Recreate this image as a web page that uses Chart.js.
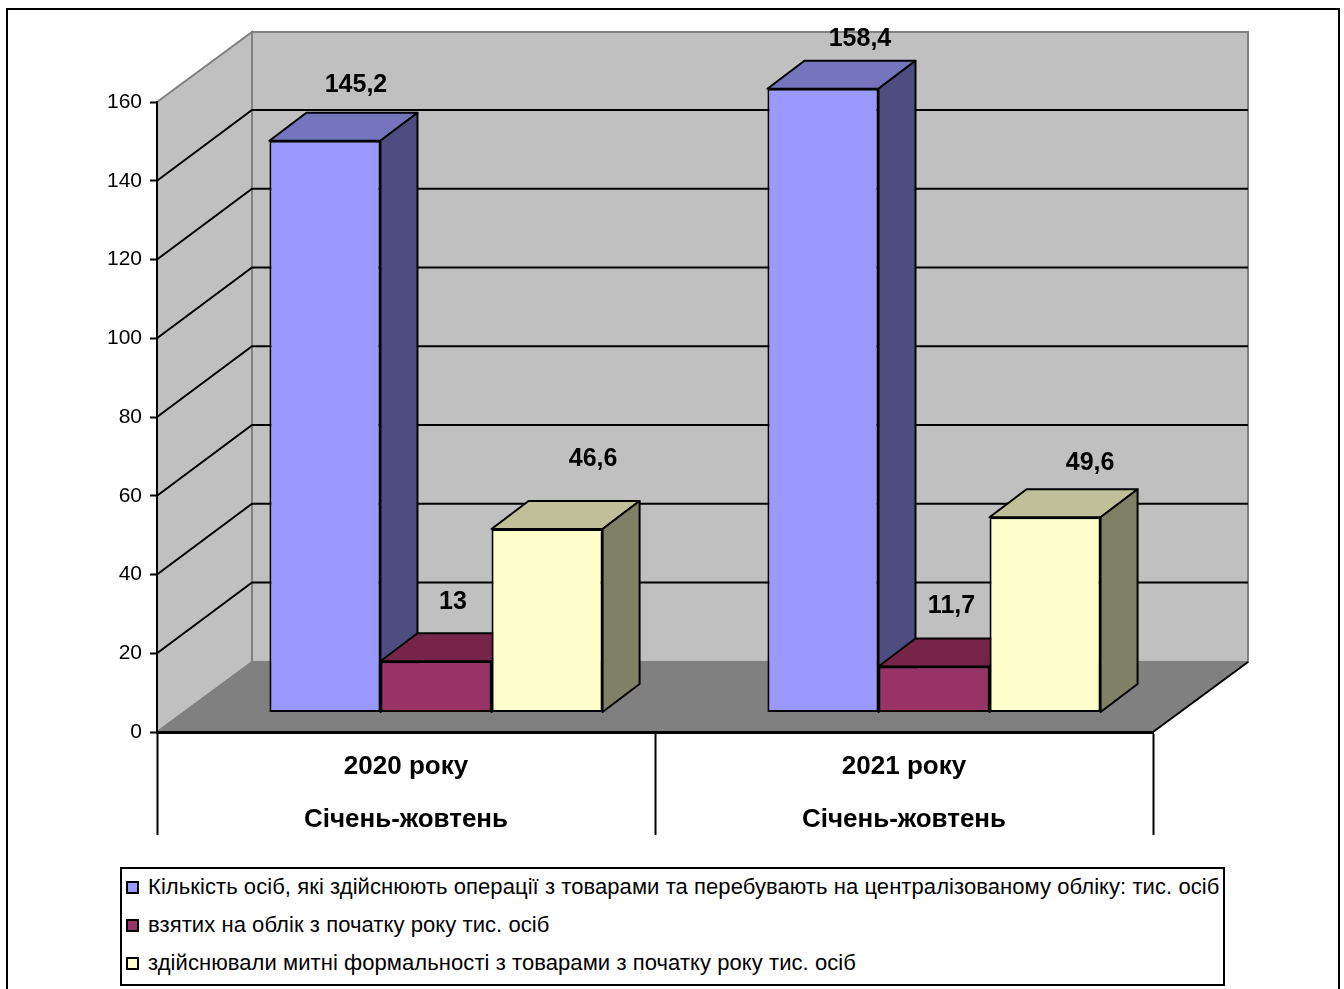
<!DOCTYPE html>
<html>
<head>
<meta charset="utf-8">
<script src="https://cdn.jsdelivr.net/npm/chart.js@4"></script>
<style>
    body { margin: 0; background: #fff; overflow: hidden; }
    #wrap { position: relative; width: 1344px; height: 989px; }
    #legend {
        position: absolute; left: 120px; top: 867px; width: 1101px; height: 115px;
        border: 2px solid #000; background: #fff; box-sizing: content-box;
        font: 22px "Liberation Sans", Arial, sans-serif; letter-spacing: 0.07px; color: #000;
    }
    #legend div { position: absolute; left: 4px; white-space: nowrap; height: 26px; line-height: 26px; }
    #legend span {
        display: inline-block; width: 9px; height: 9px; border: 2px solid #000;
        margin-right: 9px; vertical-align: 0;
    }
</style>
</head>
<body>
<div id="wrap">
    <canvas id="chart3d" width="1344" height="989"></canvas>
    <div id="legend"></div>
</div>
<script>
const years = ['2020 року', '2021 року'];
const period = ['Січень-жовтень', 'Січень-жовтень'];
const registered = [145.2, 158.4];
const newlyTaken = [13, 11.7];
const declared = [46.6, 49.6];
const seriesNames = [
    'Кількість осіб, які здійснюють операції з товарами та перебувають на централізованому обліку: тис. осіб',
    'взятих на облік з початку року тис. осіб',
    'здійснювали митні формальності з товарами з початку року тис. осіб'
];
const yTicksMax = 160;

const frontColors = ['#9999FF', '#993366', '#FFFFCC'];
const topColors = ['#7575BD', '#752548', '#BFBF99'];
const sideColors = ['#4D4D80', '#4D1A33', '#808066'];

// moved by hand, the labels do not sit at the same distance from each bar
const labelOffsets = [
    [[31, -56], [37, -50]],
    [[17, -59], [17.5, -60]],
    [[46, -70], [45, -54]]
];

const FONT = '"Liberation Sans", Arial, sans-serif';
const wallDx = 95, wallDy = -70;      // depth of the floor
const gridShift = -0.7;               // wall lines sit a bit above the plain scale position
const barDx = 30, barDy = -19.5;      // bars stand inside the floor
const depthDx = 37, depthDy = -28;    // depth of a bar

function poly(ctx, pts, fill, stroke, width) {
    ctx.beginPath();
    pts.forEach((p, i) => i ? ctx.lineTo(p[0], p[1]) : ctx.moveTo(p[0], p[1]));
    ctx.closePath();
    if (fill) { ctx.fillStyle = fill; ctx.fill(); }
    if (stroke) { ctx.strokeStyle = stroke; ctx.lineWidth = width; ctx.stroke(); }
}

function drawWalls(chart) {
    const ctx = chart.ctx, a = chart.chartArea, y = chart.scales.y;
    const l = a.left, r = a.right, t = a.top, b = a.bottom;
    ctx.save();
    poly(ctx, [[l + wallDx, t + wallDy], [r + wallDx, t + wallDy], [r + wallDx, b + wallDy], [l + wallDx, b + wallDy]], '#C0C0C0', '#808080', 2);
    poly(ctx, [[l, t], [l + wallDx, t + wallDy], [l + wallDx, b + wallDy], [l, b]], '#C0C0C0', '#808080', 2);
    poly(ctx, [[l, b], [r, b], [r + wallDx, b + wallDy], [l + wallDx, b + wallDy]], '#808080', null, 0);

    ctx.strokeStyle = '#000';
    ctx.lineWidth = 2;
    y.ticks.forEach(tick => {
        if (tick.value === 0 || tick.value === yTicksMax) return;
        const py = y.getPixelForValue(tick.value);
        ctx.beginPath();
        ctx.moveTo(l, py);
        ctx.lineTo(l + wallDx, py + wallDy + gridShift);
        ctx.lineTo(r + wallDx, py + wallDy + gridShift);
        ctx.stroke();
    });
    // front edge of the floor on the right
    ctx.beginPath();
    ctx.moveTo(r, b);
    ctx.lineTo(r + wallDx, b + wallDy);
    ctx.stroke();
    ctx.restore();
}

function drawBars(chart, i) {
    const ctx = chart.ctx;
    const meta = chart.getDatasetMeta(i);
    ctx.save();
    ctx.translate(barDx, barDy);
    meta.controller.draw();
    ctx.lineJoin = 'round';
    meta.data.forEach(bar => {
        const x0 = bar.x - bar.width / 2, x1 = bar.x + bar.width / 2;
        const top = bar.y, base = bar.base;
        poly(ctx, [[x0, top], [x0 + depthDx, top + depthDy], [x1 + depthDx, top + depthDy], [x1, top]], topColors[i], '#000', 2);
        poly(ctx, [[x1, top], [x1 + depthDx, top + depthDy], [x1 + depthDx, base + depthDy], [x1, base]], sideColors[i], '#000', 2);
    });
    ctx.restore();
}

const box3d = {
    id: 'box3d',
    beforeDraw(chart) {
        const ctx = chart.ctx;
        ctx.save();
        ctx.fillStyle = '#fff';
        ctx.fillRect(0, 0, chart.width, chart.height);
        ctx.strokeStyle = '#000';
        ctx.lineWidth = 2;
        ctx.strokeRect(7, 9, 1332, 1000);
        ctx.restore();
    },
    beforeDatasetsDraw(chart) {
        drawWalls(chart);
        // Chart.js ties bar position and paint order, here left bar must go first
        chart.data.datasets.forEach((ds, i) => drawBars(chart, i));
        return false;
    },
    afterDraw(chart) {
        const ctx = chart.ctx;
        ctx.save();
        ctx.font = 'bold 25px ' + FONT;
        ctx.fillStyle = '#000';
        ctx.textAlign = 'center';
        ctx.textBaseline = 'middle';
        chart.data.datasets.forEach((ds, i) => {
            chart.getDatasetMeta(i).data.forEach((bar, j) => {
                const off = labelOffsets[i][j];
                const text = String(ds.data[j]).replace('.', ',');
                ctx.fillText(text, bar.x + barDx + off[0], bar.y + barDy + off[1]);
            });
        });
        ctx.restore();
    }
};

const seriesValues = [registered, newlyTaken, declared];

new Chart(document.getElementById('chart3d').getContext('2d'), {
    type: 'bar',
    data: {
        labels: years.map((y, i) => [y, period[i]]),
        datasets: seriesValues.map((values, i) => ({
            label: seriesNames[i],
            data: values,
            backgroundColor: frontColors[i],
            borderColor: '#000',
            borderWidth: 2,
            borderSkipped: false,
            clip: false,
            categoryPercentage: 0.669,
            barPercentage: 1
        }))
    },
    options: {
        responsive: false,
        animation: false,
        devicePixelRatio: 1,
        layout: { padding: { top: 102, right: 191, left: 0, bottom: 0 } },
        plugins: { legend: { display: false }, tooltip: { enabled: false } },
        scales: {
            x: {
                afterFit: s => { s.height = 257; },
                border: { display: true, color: '#000', width: 3, z: 1 },
                grid: { drawOnChartArea: false, color: '#000', tickColor: '#000', tickLength: 103, tickWidth: 2, z: 1 },
                ticks: {
                    color: '#000',
                    padding: -95,
                    maxRotation: 0,
                    font: { family: FONT, size: 26, weight: 'bold', lineHeight: '53px' }
                }
            },
            y: {
                min: 0,
                max: yTicksMax,
                afterFit: s => { s.width = 157; },
                border: { display: true, color: '#000', width: 2, z: 1 },
                grid: { drawOnChartArea: false, tickColor: '#000', tickLength: 7, tickWidth: 2, z: 1 },
                ticks: {
                    stepSize: 20,
                    color: '#000',
                    padding: 8,
                    font: { family: FONT, size: 21 }
                }
            }
        }
    },
    plugins: [box3d]
});

// the legend is a plain box under the chart
const legendBox = document.getElementById('legend');
const rowTops = [5, 43, 81];
seriesNames.forEach((name, i) => {
    const row = document.createElement('div');
    row.style.top = rowTops[i] + 'px';
    const swatch = document.createElement('span');
    swatch.style.background = frontColors[i];
    row.appendChild(swatch);
    row.appendChild(document.createTextNode(name));
    legendBox.appendChild(row);
});
</script>
</body>
</html>
